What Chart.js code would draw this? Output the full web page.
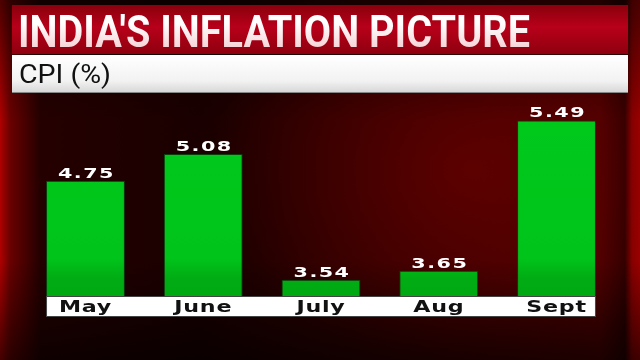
<!DOCTYPE html>
<html><head><meta charset="utf-8">
<script src="https://cdn.jsdelivr.net/npm/chart.js@4/dist/chart.umd.min.js"></script>
<style>
html,body{margin:0;padding:0;width:640px;height:360px;overflow:hidden;}
body{position:relative;background:
 radial-gradient(ellipse 260px 200px at 470px 170px, rgba(120,0,0,0.55), rgba(0,0,0,0) 100%),
 linear-gradient(90deg,#b00000 0px,#6a0000 10px,#250000 40px,#1a0000 200px,#3a0000 450px,#4a0000 600px,#2a0000 625px,#8a0000 632px,#a00000 640px);
}
#shade{position:absolute;left:0;top:0;width:640px;height:360px;background:linear-gradient(180deg,rgba(0,0,0,0.55) 0px,rgba(0,0,0,0) 120px,rgba(0,0,0,0) 260px,rgba(0,0,0,0.6) 360px);}
#tband{position:absolute;left:12px;top:5px;width:616px;height:49px;background:linear-gradient(180deg,#8a000c 0%,#b8001a 45%,#8e000e 100%);}
#title{position:absolute;left:18px;top:10px;white-space:nowrap;transform-origin:0 0;font-family:Roboto,sans-serif;font-weight:bold;font-size:44px;line-height:44px;
 background:linear-gradient(180deg,#ffffff 30%,#f4c8cc 100%);-webkit-background-clip:text;background-clip:text;color:transparent;}
#sband{position:absolute;left:12px;top:55px;width:616px;height:37px;background:linear-gradient(180deg,#ffffff 0%,#f2f2f2 70%,#d8d8d8 100%);border-bottom:1px solid #888;}
#sub{position:absolute;left:19px;top:62px;white-space:nowrap;transform-origin:0 0;font-family:Roboto,sans-serif;font-size:25px;line-height:25px;color:#111;}
canvas{position:absolute;left:0;top:0;}
</style></head>
<body>
<div id="shade"></div>
<div id="tband"></div>
<div id="title">INDIA'S INFLATION PICTURE</div>
<div id="sband"></div>
<div id="sub">CPI (%)</div>
<canvas id="c" width="640" height="360"></canvas>
<script>
const categories = ["May", "June", "July", "Aug", "Sept"];
const cpiValues = [4.75, 5.08, 3.54, 3.65, 5.49];
const valueLabels = ["4.75", "5.08", "3.54", "3.65", "5.49"];

function fitWidth(id, w) {
  const el = document.getElementById(id);
  const cur = el.getBoundingClientRect().width;
  el.style.transform = 'scaleX(' + (w / cur) + ')';
}
fitWidth('title', 512);
fitWidth('sub', 92);

// wide (extended) lettering: stretch canvas text horizontally around its anchor
const canvas = document.getElementById('c');
const cctx = canvas.getContext('2d');
const origFill = cctx.fillText.bind(cctx);
const TEXT_STRETCH = 1.48;
cctx.fillText = function (t, x, y) {
  cctx.save();
  cctx.translate(x, y);
  cctx.scale(TEXT_STRETCH, 1);
  origFill(t, 0, 0);
  cctx.restore();
};

const bandPlugin = {
  id: 'band',
  beforeDraw(chart) {
    const meta = chart.getDatasetMeta(0);
    const first = meta.data[0], last = meta.data[meta.data.length - 1];
    const l = first.x - first.width / 2, r = last.x + last.width / 2;
    const ctx = chart.ctx;
    ctx.save();
    ctx.fillStyle = '#ffffff';
    ctx.fillRect(l, chart.chartArea.bottom, r - l, 21);
    ctx.strokeStyle = '#444';
    ctx.lineWidth = 1;
    ctx.strokeRect(l + 0.5, chart.chartArea.bottom + 0.5, r - l - 1, 20);
    ctx.restore();
    if ('letterSpacing' in ctx) ctx.letterSpacing = '0.5px';
  },
  afterDatasetsDraw(chart) {
    const meta = chart.getDatasetMeta(0);
    const ctx = chart.ctx;
    ctx.save();
    ctx.font = 'bold 14px "DejaVu Sans", sans-serif';
    ctx.fillStyle = '#ffffff';
    ctx.textAlign = 'center';
    ctx.textBaseline = 'alphabetic';
    if ('letterSpacing' in ctx) ctx.letterSpacing = '1px';
    meta.data.forEach((bar, i) => {
      ctx.fillText(valueLabels[i], bar.x + 1, bar.y - 3);
    });
    ctx.restore();
  }
};

new Chart(canvas, {
  type: 'bar',
  data: {
    labels: categories,
    datasets: [{
      data: cpiValues,
      backgroundColor: (ctx) => {
        const c = ctx.chart.ctx;
        const g = c.createLinearGradient(0, 100, 0, 298);
        g.addColorStop(0, '#00c91c');
        g.addColorStop(0.8, '#00c41a');
        g.addColorStop(0.9, '#00ac14');
        g.addColorStop(1, '#00a812');
        return g;
      },
      borderColor: '#0b3d0b',
      borderWidth: 1,
      borderSkipped: 'bottom',
      barPercentage: 0.67,
      categoryPercentage: 1.0
    }]
  },
  options: {
    responsive: false,
    animation: false,
    devicePixelRatio: 1,
    layout: { padding: { left: 26.6, right: 24.6, top: 100, bottom: 40 } },
    plugins: { legend: { display: false }, tooltip: { enabled: false } },
    scales: {
      x: {
        grid: { display: false, drawTicks: false },
        border: { display: false },
        ticks: { color: '#111', font: { family: '"DejaVu Sans", sans-serif', size: 15, weight: 'bold' }, padding: 3 }
      },
      y: { display: false, min: 3.34, max: 5.74 }
    }
  },
  plugins: [bandPlugin]
});
</script>
</body></html>
